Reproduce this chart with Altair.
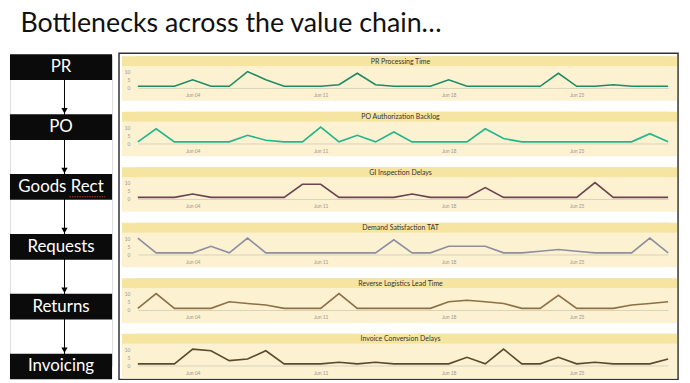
import altair as alt
import pandas as pd

# ---------------- data ----------------
days = [f"2018-06-{d:02d}T00:00:00" for d in range(1, 31)]

steps = ["PR", "PO", "Goods Rect", "Requests", "Returns", "Invoicing"]

titles = [
    "PR Processing Time",
    "PO Authorization Backlog",
    "GI Inspection Delays",
    "Demand Satisfaction TAT",
    "Reverse Logistics Lead Time",
    "Invoice Conversion Delays",
]

pr_processing = [1, 1, 1, 5, 1, 1, 10, 5, 1, 1, 1, 2, 9, 2, 1, 1, 1, 5, 1, 1, 1, 1, 1, 9, 1, 1, 2, 1, 1, 1]
po_backlog = [1, 9, 1, 1, 1, 1, 5, 2, 1, 1, 10, 1, 5, 1, 7, 1, 1, 1, 1, 9, 3, 1, 1, 1, 1, 1, 1, 1, 6, 1]
gi_delays = [1, 1, 1, 3, 1, 1, 1, 1, 1, 9, 9, 1, 1, 1, 1, 3, 1, 1, 1, 7, 1, 1, 1, 1, 1, 10, 1, 1, 1, 1]
demand_tat = [10, 1, 1, 1, 5, 1, 10, 1, 1, 1, 1, 1, 1, 1, 9, 1, 1, 5, 5, 5, 1, 1, 2, 3, 2, 1, 1, 1, 10, 1]
reverse_lead = [1, 10, 1, 1, 1, 5, 4, 3, 1, 1, 1, 10, 1, 1, 1, 1, 1, 5, 6, 5, 4, 1, 1, 9, 1, 1, 1, 3, 4, 5]
invoice_delays = [1, 1, 1, 10, 9, 3, 4, 9, 1, 1, 1, 2, 1, 2, 1, 1, 1, 1, 5, 1, 10, 1, 1, 5, 1, 2, 1, 1, 1, 4]

series = [pr_processing, po_backlog, gi_delays, demand_tat, reverse_lead, invoice_delays]
colors = ["#1E8A66", "#22B68B", "#6C4350", "#8D8FA1", "#8E7046", "#5B4A2F"]

y_ticks = [0, 5, 10]
x_tick_days = [4, 11, 18, 25]
flagged_word = ["Goods Rect"]   # the box whose word carries the spell-check squiggle

# ---------------- styling ----------------
FONT = "Lato"
PW, PH = 540, 32          # panel view (plot) size
GAP = 24                  # spacing between panels
BAND = "#F6E5A0"
BG = "#FCF1D0"
one = alt.Data(values=[{"k": 0}])


def panel(title, values, color):
    df = pd.DataFrame({"date": days, "value": values})
    bg = alt.Chart(one).mark_rect(color=BG).encode(
        x=alt.value(-13), x2=alt.value(PW + 7), y=alt.value(10), y2=alt.value(45))
    band = alt.Chart(one).mark_rect(color=BAND).encode(
        x=alt.value(-13), x2=alt.value(PW + 7), y=alt.value(0), y2=alt.value(10))
    ttl = alt.Chart(one).mark_text(fontSize=7, color="#333333", font=FONT).encode(
        x=alt.value(268), y=alt.value(5.5), text=alt.value(title))
    line = alt.Chart(df).mark_line(color=color, strokeWidth=1.6).encode(
        x=alt.X("date:T",
                scale=alt.Scale(domain=[alt.DateTime(year=2018, month=6, date=1),
                                        alt.DateTime(year=2018, month=6, date=30)],
                                range=[3, 538], nice=False),
                axis=alt.Axis(values=[alt.DateTime(year=2018, month=6, date=d) for d in x_tick_days],
                              format="%b %d", title=None, grid=False, ticks=False,
                              domainColor="#D9D2BC", domainWidth=1,
                              labelFontSize=5, labelColor="#9A9A9A", labelFont=FONT,
                              labelPadding=5, zindex=1)),
        y=alt.Y("value:Q",
                scale=alt.Scale(domain=[0, 10], range=[PH, 15.5], nice=False),
                axis=alt.Axis(values=y_ticks, title=None, grid=False, ticks=False, domain=False,
                              labelFontSize=5, labelColor="#9A9A9A", labelFont=FONT,
                              labelPadding=5, zindex=1)),
    )
    return alt.layer(bg, band, ttl, line).properties(width=PW, height=PH)


panels = [panel(t, v, c) for t, v, c in zip(titles, series, colors)]

# ---------------- flow chart on the left ----------------
FW = 103
FH = PH * 6 + GAP * 5
ysc = alt.Scale(domain=steps, range=[-2, FH + 14], paddingInner=0.57, paddingOuter=0)

step_df = pd.DataFrame({"step": steps})
arrow_df = pd.DataFrame({"from": steps[:-1], "to": steps[1:]})
flag_df = pd.DataFrame({"step": flagged_word})

frame = alt.Chart(one).mark_rect(fillOpacity=0, stroke="#333333", strokeWidth=1.5).encode(
    x=alt.value(110), x2=alt.value(674), y=alt.value(-3), y2=alt.value(FH + 14))
rules = alt.Chart(arrow_df).mark_rule(color="#000000", strokeWidth=1).encode(
    x=alt.value(55), y=alt.Y("from:N", scale=ysc, axis=None), y2="to:N")
heads = alt.Chart(arrow_df).mark_point(shape="triangle-down", filled=True, size=40,
                                       color="#000000", opacity=1, yOffset=-3.5).encode(
    x=alt.value(55), y=alt.Y("to:N", scale=ysc, axis=None, bandPosition=0))
boxes = alt.Chart(step_df).mark_rect(color="#0B0B0B").encode(
    x=alt.value(0), x2=alt.value(FW), y=alt.Y("step:N", scale=ysc, axis=None))
labels = alt.Chart(step_df).mark_text(color="#FFFFFF", fontSize=17, font=FONT).encode(
    x=alt.value(FW / 2), y=alt.Y("step:N", scale=ysc, axis=None), text="step:N")
squiggle = alt.Chart(flag_df).mark_rule(color="#C0392B", strokeWidth=1, strokeDash=[1.5, 1],
                                        yOffset=-3).encode(
    x=alt.value(60), x2=alt.value(96), y=alt.Y("step:N", scale=ysc, axis=None, bandPosition=1))

flow = alt.layer(frame, rules, heads, boxes, labels, squiggle).properties(width=FW, height=FH)

chart = alt.hconcat(
    flow,
    alt.vconcat(*panels, spacing=GAP, bounds="flush"),
    spacing=23, bounds="flush",
).properties(
    title=alt.TitleParams("Bottlenecks across the value chain\u2026", fontSize=27, font=FONT,
                          fontWeight="normal", color="#111111", anchor="start", dx=11, offset=14),
    padding={"left": 1, "top": 0, "right": 2, "bottom": 2},
).configure_view(stroke=None).configure(background="#FFFFFF")

chart.save("out.html", embed_options={"renderer": "svg", "actions": False})
